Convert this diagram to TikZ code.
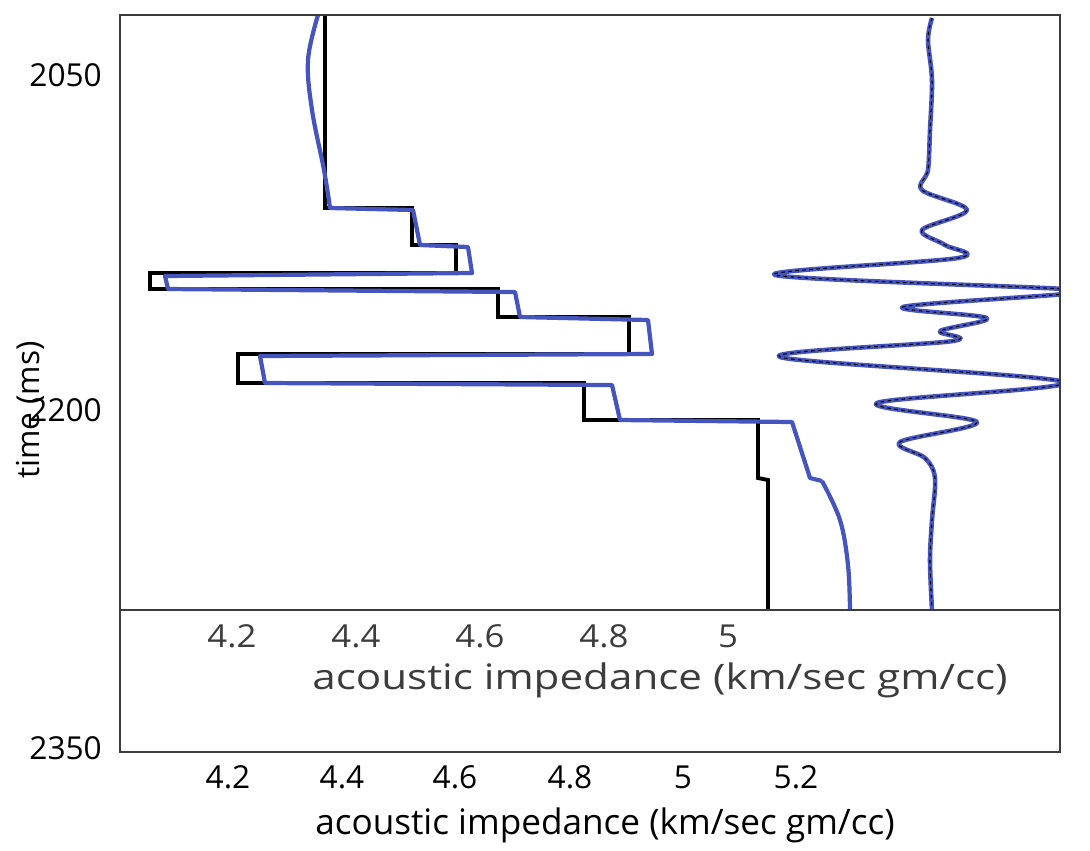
\documentclass[tikz,border=0pt]{standalone}
\usepackage{fontspec}
\setmainfont{Open Sans}
\definecolor{pblue}{RGB}{70,85,190}
\definecolor{fgray}{RGB}{60,60,60}
\begin{document}
\begin{tikzpicture}[x=0.02cm,y=-0.02cm,
  lbl/.style={font=\fontsize{18}{21}\selectfont},
  big/.style={font=\fontsize{20}{24}\selectfont},
  blk/.style={line width=2.2pt,black,line join=miter},
  blu/.style={line width=2.4pt,pblue,line join=round}]
\useasboundingbox (0,0) rectangle (1090,850);
% black impedance log
\draw[blk] (325,15) -- (325,208) -- (412,208) -- (412,245) -- (456,245) -- (456,273) -- (150,273) -- (150,289) -- (498,289) -- (498,317) -- (629,317) -- (629,354) -- (238,354) -- (238,383) -- (584,383) -- (584,420) -- (758,420) -- (758,478) -- (768,480) -- (768,610);
% blue estimate
\draw[blu] plot[smooth,tension=0.6] coordinates {(318,15) (308,60) (312,110) (324,170) (330,208)}
  -- (413,210) -- (420,245) -- (468,247) -- (472,273) -- (165,276) -- (168,289) -- (515,292) -- (520,317) -- (648,320) -- (652,354) -- (260,356) -- (265,383) -- (612,385) -- (620,420) -- (792,422) -- (810,478) -- (822,481)
  plot[smooth,tension=0.6] coordinates {(822,481) (840,520) (848,565) (850,610)};
% seismic traces
\begin{scope}
\clip (120,15) rectangle (1060,610);
\draw[blu,line width=2.6pt] plot[smooth,tension=0.55] coordinates {
 (932,18) (928,40) (932,80) (930,130) (928,170) (922,190) (967,210) (922,230) (945,245) (958,258)
 (775,275) (1064,289) (1064,294) (903,307) (987,318) (940,331) (953,341) (780,357) (1064,382)
 (877,403) (977,422) (900,442) (925,458) (935,478) (932,520) (930,560) (932,610)};
\draw[black,line width=0.6pt,dash pattern=on 2pt off 2pt] plot[smooth,tension=0.55] coordinates {
 (932,18) (928,40) (932,80) (930,130) (928,170) (922,190) (967,210) (922,230) (945,245) (958,258)
 (775,275) (1064,289) (1064,294) (903,307) (987,318) (940,331) (953,341) (780,357) (1064,382)
 (877,403) (977,422) (900,442) (925,458) (935,478) (932,520) (930,560) (932,610)};
\end{scope}
% frame
\draw[fgray,line width=1.6pt] (120,15) rectangle (1060,752);
\draw[fgray,line width=1.6pt] (120,610) -- (1060,610);
% y labels
\node[lbl,anchor=east] (y1) at (108,75) {2050};
\node[lbl,anchor=east] (y2) at (108,410) {2200};
\node[lbl,anchor=east] (y3) at (108,748) {2350};
\node[lbl,rotate=90] (yl) at (30,410) {time (ms)};
% inner x labels
\foreach \x/\t [count=\i] in {232/4.2,356/4.4,480/4.6,604/4.8,728/5}
  \node[lbl,fgray,xscale=1.1] (ix\i) at (\x,636) {\t};
\node[big,fgray,xscale=1.2] (il) at (660,680) {acoustic impedance (km/sec gm/cc)};
% outer x labels
\foreach \x/\t [count=\i] in {228/4.2,342/4.4,455/4.6,570/4.8,683/5,796/5.2}
  \node[lbl] (ox\i) at (\x,777) {\t};
\node[big] (ol) at (605,825) {acoustic impedance (km/sec gm/cc)};
\end{tikzpicture}
\end{document}
